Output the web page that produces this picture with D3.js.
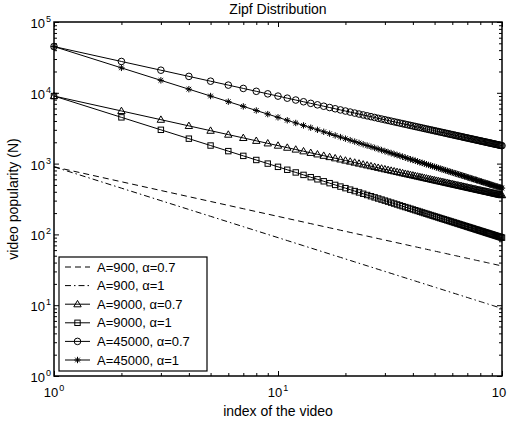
<!DOCTYPE html>
<html>
<head>
<meta charset="utf-8">
<script src="https://cdn.jsdelivr.net/npm/d3@7/dist/d3.min.js"></script>
<style>
  body { margin: 0; background: #fff; }
  text { font-family: "Liberation Sans", Arial, Helvetica, sans-serif; fill: #000; }
</style>
</head>
<body>
<svg id="chart" width="507" height="423"></svg>
<script>
// Video index (rank) along the x axis
const videoIndex = [
  1, 2, 3, 4, 5, 6, 7, 8, 9, 10, 11, 12, 13, 14, 15, 16, 17, 18, 19, 20,
  21, 22, 23, 24, 25, 26, 27, 28, 29, 30, 31, 32, 33, 34, 35, 36, 37, 38, 39, 40,
  41, 42, 43, 44, 45, 46, 47, 48, 49, 50, 51, 52, 53, 54, 55, 56, 57, 58, 59, 60,
  61, 62, 63, 64, 65, 66, 67, 68, 69, 70, 71, 72, 73, 74, 75, 76, 77, 78, 79, 80,
  81, 82, 83, 84, 85, 86, 87, 88, 89, 90, 91, 92, 93, 94, 95, 96, 97, 98, 99, 100
];

// Popularity N per video for each (A, alpha) pair
const popA900a07 = [
  900, 554.0, 417.1, 341.0, 291.7, 256.8, 230.5, 209.9, 193.3, 179.6,
  168.0, 158.1, 149.5, 141.9, 135.2, 129.2, 123.9, 119.0, 114.6, 110.5,
  106.8, 103.4, 100.2, 97.3, 94.6, 92.0, 89.6, 87.3, 85.2, 83.2,
  81.3, 79.6, 77.9, 76.2, 74.7, 73.3, 71.9, 70.5, 69.3, 68.0,
  66.9, 65.8, 64.7, 63.7, 62.7, 61.7, 60.8, 59.9, 59.0, 58.2,
  57.4, 56.6, 55.9, 55.2, 54.5, 53.8, 53.1, 52.5, 51.8, 51.2,
  50.6, 50.1, 49.5, 49.0, 48.4, 47.9, 47.4, 46.9, 46.5, 46.0,
  45.5, 45.1, 44.7, 44.2, 43.8, 43.4, 43.0, 42.6, 42.3, 41.9,
  41.5, 41.2, 40.8, 40.5, 40.2, 39.8, 39.5, 39.2, 38.9, 38.6,
  38.3, 38.0, 37.7, 37.4, 37.1, 36.9, 36.6, 36.3, 36.1, 35.8
];
const popA900a1 = [
  900, 450, 300, 225, 180, 150, 128.57, 112.5, 100, 90,
  81.82, 75, 69.23, 64.29, 60, 56.25, 52.94, 50, 47.37, 45,
  42.86, 40.91, 39.13, 37.5, 36, 34.62, 33.33, 32.14, 31.03, 30,
  29.03, 28.13, 27.27, 26.47, 25.71, 25, 24.32, 23.68, 23.08, 22.5,
  21.95, 21.43, 20.93, 20.45, 20, 19.57, 19.15, 18.75, 18.37, 18,
  17.65, 17.31, 16.98, 16.67, 16.36, 16.07, 15.79, 15.52, 15.25, 15,
  14.75, 14.52, 14.29, 14.06, 13.85, 13.64, 13.43, 13.24, 13.04, 12.86,
  12.68, 12.5, 12.33, 12.16, 12, 11.84, 11.69, 11.54, 11.39, 11.25,
  11.11, 10.98, 10.84, 10.71, 10.59, 10.47, 10.34, 10.23, 10.11, 10,
  9.89, 9.78, 9.68, 9.57, 9.47, 9.38, 9.28, 9.18, 9.09, 9
];
const popA9000a07 = [
  9000, 5540.2, 4171.1, 3410.4, 2917.2, 2567.7, 2305.0, 2099.3, 1933.2, 1795.7,
  1679.8, 1580.6, 1494.5, 1418.9, 1352.0, 1292.3, 1238.6, 1190.0, 1145.8, 1105.4,
  1068.3, 1034.1, 1002.4, 972.9, 945.5, 919.9, 896.0, 873.4, 852.2, 832.3,
  813.4, 795.5, 778.5, 762.4, 747.1, 732.5, 718.6, 705.3, 692.6, 680.5,
  668.8, 657.6, 646.9, 636.5, 626.6, 617.0, 607.8, 598.9, 590.3, 582.1,
  574.0, 566.3, 558.8, 551.5, 544.5, 537.7, 531.0, 524.6, 518.4, 512.3,
  506.4, 500.7, 495.1, 489.7, 484.4, 479.3, 474.2, 469.3, 464.6, 459.9,
  455.4, 450.9, 446.6, 442.4, 438.2, 434.2, 430.2, 426.4, 422.6, 418.9,
  415.2, 411.7, 408.2, 404.8, 401.5, 398.2, 395.0, 391.8, 388.8, 385.7,
  382.7, 379.8, 377.0, 374.2, 371.4, 368.7, 366.0, 363.4, 360.8, 358.3
];
const popA9000a1 = [
  9000, 4500, 3000, 2250, 1800, 1500, 1285.7, 1125, 1000, 900,
  818.2, 750, 692.3, 642.9, 600, 562.5, 529.4, 500, 473.7, 450,
  428.6, 409.1, 391.3, 375, 360, 346.2, 333.3, 321.4, 310.3, 300,
  290.3, 281.3, 272.7, 264.7, 257.1, 250, 243.2, 236.8, 230.8, 225,
  219.5, 214.3, 209.3, 204.5, 200, 195.7, 191.5, 187.5, 183.7, 180,
  176.5, 173.1, 169.8, 166.7, 163.6, 160.7, 157.9, 155.2, 152.5, 150,
  147.5, 145.2, 142.9, 140.6, 138.5, 136.4, 134.3, 132.4, 130.4, 128.6,
  126.8, 125, 123.3, 121.6, 120, 118.4, 116.9, 115.4, 113.9, 112.5,
  111.1, 109.8, 108.4, 107.1, 105.9, 104.7, 103.4, 102.3, 101.1, 100,
  98.9, 97.8, 96.8, 95.7, 94.7, 93.8, 92.8, 91.8, 90.9, 90
];
const popA45000a07 = [
  45000, 27701, 20856, 17052, 14586, 12839, 11525, 10497, 9666, 8979,
  8399, 7903, 7473, 7095, 6760, 6462, 6193, 5950, 5729, 5527,
  5342, 5171, 5012, 4865, 4728, 4600, 4480, 4367, 4261, 4162,
  4067, 3978, 3893, 3812, 3736, 3663, 3593, 3527, 3463, 3403,
  3344, 3288, 3235, 3183, 3133, 3085, 3039, 2995, 2952, 2911,
  2870, 2832, 2794, 2758, 2723, 2689, 2655, 2623, 2592, 2562,
  2532, 2504, 2476, 2449, 2422, 2397, 2371, 2347, 2323, 2300,
  2277, 2255, 2233, 2212, 2191, 2171, 2151, 2132, 2113, 2095,
  2076, 2059, 2041, 2024, 2008, 1991, 1975, 1959, 1944, 1929,
  1914, 1899, 1885, 1871, 1857, 1844, 1830, 1817, 1804, 1792
];
const popA45000a1 = [
  45000, 22500, 15000, 11250, 9000, 7500, 6428.6, 5625, 5000, 4500,
  4090.9, 3750, 3461.5, 3214.3, 3000, 2812.5, 2647.1, 2500, 2368.4, 2250,
  2142.9, 2045.5, 1956.5, 1875, 1800, 1730.8, 1666.7, 1607.1, 1551.7, 1500,
  1451.6, 1406.3, 1363.6, 1323.5, 1285.7, 1250, 1216.2, 1184.2, 1153.8, 1125,
  1097.6, 1071.4, 1046.5, 1022.7, 1000, 978.3, 957.4, 937.5, 918.4, 900,
  882.4, 865.4, 849.1, 833.3, 818.2, 803.6, 789.5, 775.9, 762.7, 750,
  737.7, 725.8, 714.3, 703.1, 692.3, 681.8, 671.6, 661.8, 652.2, 642.9,
  633.8, 625, 616.4, 608.1, 600, 592.1, 584.4, 576.9, 569.6, 562.5,
  555.6, 548.8, 542.2, 535.7, 529.4, 523.3, 517.2, 511.4, 505.6, 500,
  494.5, 489.1, 483.9, 478.7, 473.7, 468.8, 463.9, 459.2, 454.5, 450
];

// Legend labels, in drawing order
const seriesLabels = [
  "A=900, \u03b1=0.7",
  "A=900, \u03b1=1",
  "A=9000, \u03b1=0.7",
  "A=9000, \u03b1=1",
  "A=45000, \u03b1=0.7",
  "A=45000, \u03b1=1"
];
const seriesValues = [popA900a07, popA900a1, popA9000a07, popA9000a1, popA45000a07, popA45000a1];

// Axis tick values
const xMajorTicks = [1, 10, 100];
const xMajorExponents = ["0", "1", "2"];
const yMajorTicks = [1, 10, 100, 1000, 10000, 100000];
const yMajorExponents = ["0", "1", "2", "3", "4", "5"];

const titleText = "Zipf Distribution";
const xLabelText = "index of the video";
const yLabelText = "video popularity (N)";

// ---- layout & styles ----
const plot = { left: 54, right: 502, top: 22, bottom: 376 };
const styles = [
  { dash: "6,4", marker: null },
  { dash: "6,3,1.5,3", marker: null },
  { dash: null, marker: "triangle" },
  { dash: null, marker: "square" },
  { dash: null, marker: "circle" },
  { dash: null, marker: "asterisk" }
];

const svg = d3.select("#chart");

const x = d3.scaleLog().domain([1, 100]).range([plot.left, plot.right]);
const y = d3.scaleLog().domain([1, 100000]).range([plot.bottom, plot.top]);

// minor ticks: 2..9 times each decade
function minorTicks(scale) {
  const [lo, hi] = scale.domain();
  return scale.ticks().filter(v => {
    const m = v / Math.pow(10, Math.floor(Math.log10(v) + 1e-9));
    return Math.abs(m - 1) > 1e-6 && v > lo && v < hi;
  });
}

const axesG = svg.append("g");
function drawAxis(axisFn, scale, values, size, transform) {
  axesG.append("g")
    .attr("transform", transform)
    .call(axisFn(scale).tickValues(values).tickSizeInner(-size).tickSizeOuter(0).tickFormat(""))
    .call(g => g.select(".domain").remove())
    .call(g => g.selectAll("line").attr("stroke", "#000").attr("stroke-width", 1));
}
const xMinor = minorTicks(x), yMinor = minorTicks(y);
drawAxis(d3.axisBottom, x, xMinor, 3, `translate(0,${plot.bottom})`);
drawAxis(d3.axisBottom, x, xMajorTicks, 5, `translate(0,${plot.bottom})`);
drawAxis(d3.axisTop, x, xMinor, 3, `translate(0,${plot.top})`);
drawAxis(d3.axisTop, x, xMajorTicks, 5, `translate(0,${plot.top})`);
drawAxis(d3.axisLeft, y, yMinor, 3, `translate(${plot.left},0)`);
drawAxis(d3.axisLeft, y, yMajorTicks, 5, `translate(${plot.left},0)`);
drawAxis(d3.axisRight, y, yMinor, 3, `translate(${plot.right},0)`);
drawAxis(d3.axisRight, y, yMajorTicks, 5, `translate(${plot.right},0)`);

// frame
svg.append("rect")
  .attr("x", plot.left).attr("y", plot.top)
  .attr("width", plot.right - plot.left).attr("height", plot.bottom - plot.top)
  .attr("fill", "none").attr("stroke", "#000").attr("stroke-width", 1.5);

// tick labels with superscript exponents
const tickFont = 13, supFont = 9;
xMajorTicks.forEach((v, i) => {
  const t = svg.append("text")
    .attr("x", x(v)).attr("y", plot.bottom + 21)
    .attr("text-anchor", "middle").style("font-size", tickFont + "px");
  t.append("tspan").text("10");
  t.append("tspan").attr("dy", -6).attr("dx", 1).style("font-size", supFont + "px").text(xMajorExponents[i]);
});
yMajorTicks.forEach((v, i) => {
  const t = svg.append("text")
    .attr("x", plot.left - 3).attr("y", y(v) + 6)
    .attr("text-anchor", "end").style("font-size", tickFont + "px");
  t.append("tspan").text("10");
  t.append("tspan").attr("dy", -6).attr("dx", 1).style("font-size", supFont + "px").text(yMajorExponents[i]);
});

// title and axis labels
svg.append("text").attr("x", (plot.left + plot.right) / 2).attr("y", 14)
  .attr("text-anchor", "middle").style("font-size", "14px").text(titleText);
svg.append("text").attr("x", (plot.left + plot.right) / 2).attr("y", 416)
  .attr("text-anchor", "middle").style("font-size", "14px").text(xLabelText);
svg.append("text")
  .attr("transform", `translate(18,${(plot.top + plot.bottom) / 2}) rotate(-90)`)
  .attr("text-anchor", "middle").style("font-size", "14px").text(yLabelText);

// marker shapes
function drawMarker(g, kind, cx, cy) {
  if (kind === "triangle") {
    g.append("path").attr("d", `M${cx},${cy - 3.8}L${cx + 3.7},${cy + 2.6}L${cx - 3.7},${cy + 2.6}Z`)
      .attr("fill", "none").attr("stroke", "#000").attr("stroke-width", 1);
  } else if (kind === "square") {
    g.append("rect").attr("x", cx - 2.7).attr("y", cy - 2.7).attr("width", 5.4).attr("height", 5.4)
      .attr("fill", "none").attr("stroke", "#000").attr("stroke-width", 1);
  } else if (kind === "circle") {
    g.append("circle").attr("cx", cx).attr("cy", cy).attr("r", 3.3)
      .attr("fill", "none").attr("stroke", "#000").attr("stroke-width", 1);
  } else if (kind === "asterisk") {
    const r = 3.2, d = 2.3;
    g.append("path")
      .attr("d", `M${cx - r},${cy}L${cx + r},${cy}M${cx},${cy - r}L${cx},${cy + r}` +
                 `M${cx - d},${cy - d}L${cx + d},${cy + d}M${cx - d},${cy + d}L${cx + d},${cy - d}`)
      .attr("fill", "none").attr("stroke", "#000").attr("stroke-width", 1);
  }
}

// series
const plotG = svg.append("g");
const line = d3.line().x(d => x(d[0])).y(d => y(d[1]));
seriesValues.forEach((vals, s) => {
  const pts = videoIndex.map((xi, i) => [xi, vals[i]]);
  plotG.append("path").datum(pts)
    .attr("d", line).attr("fill", "none").attr("stroke", "#000").attr("stroke-width", 1)
    .attr("stroke-dasharray", styles[s].dash);
  if (styles[s].marker) {
    const mg = plotG.append("g");
    pts.forEach(p => drawMarker(mg, styles[s].marker, x(p[0]), y(p[1])));
  }
});

// legend
const legend = { x: 59, y: 257, w: 148, h: 114, row0: 267, rowStep: 18.6 };
const lg = svg.append("g");
lg.append("rect").attr("x", legend.x).attr("y", legend.y).attr("width", legend.w).attr("height", legend.h)
  .attr("fill", "#fff").attr("stroke", "#000").attr("stroke-width", 1.2);
seriesLabels.forEach((lab, s) => {
  const cy = legend.row0 + s * legend.rowStep;
  lg.append("line").attr("x1", 65).attr("x2", 90).attr("y1", cy).attr("y2", cy)
    .attr("stroke", "#000").attr("stroke-width", 1).attr("stroke-dasharray", styles[s].dash);
  if (styles[s].marker) drawMarker(lg, styles[s].marker, 77.5, cy);
  lg.append("text").attr("x", 97).attr("y", cy + 4.6).style("font-size", "13px").text(lab);
});
</script>
</body>
</html>
